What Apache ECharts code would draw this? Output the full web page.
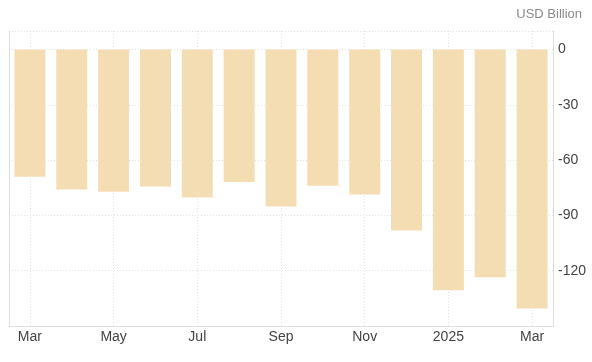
<!DOCTYPE html>
<html><head><meta charset="utf-8">
<script src="https://cdn.jsdelivr.net/npm/echarts@6/dist/echarts.min.js"></script>
<style>html,body{margin:0;padding:0;background:#fff}#c{width:592px;height:362px}</style>
</head><body><div id="c"></div>
<script>
const categories = ['Mar','Apr','May','Jun','Jul','Aug','Sep','Oct','Nov','Dec','2025','Feb','Mar'];
const balance = [-69.0,-76.0,-77.2,-74.4,-80.3,-71.9,-85.2,-73.9,-78.7,-98.2,-130.6,-123.5,-140.5];
const unitLabel = 'USD Billion';

const chart = echarts.init(document.getElementById('c'));
chart.setOption({
  animation: false,
  textStyle: { fontFamily: 'Liberation Sans, Arial, sans-serif' },
  title: {
    text: unitLabel, right: 5, top: 3,
    textStyle: { color: '#8a8a8a', fontSize: 13, fontWeight: 'normal' }
  },
  grid: { left: 9, right: 39, top: 31, bottom: 36 },
  xAxis: {
    type: 'category', data: categories, boundaryGap: true,
    axisLine: { show: true, onZero: false, lineStyle: { color: '#dedede' } },
    axisTick: { show: false },
    axisLabel: { interval: 1, color: '#444', fontSize: 14, margin: 4 },
    splitLine: { show: true, interval: 1, alignWithLabel: true, lineStyle: { color: '#e2e2e2', type: [1, 2] } }
  },
  yAxis: [{
    type: 'value', position: 'right', min: -150, max: 10, interval: 30,
    axisLine: { show: true, lineStyle: { color: '#dedede' } },
    axisTick: { show: false },
    axisLabel: { color: '#444', fontSize: 14, margin: 5, showMinLabel: false, showMaxLabel: false },
    splitLine: { show: true, lineStyle: { color: '#e2e2e2', type: [1, 2] } }
  }, {
    type: 'value', position: 'left', min: -150, max: 10, interval: 30,
    axisLine: { show: true, lineStyle: { color: '#dedede' } },
    axisTick: { show: false }, axisLabel: { show: false }, splitLine: { show: false }
  }],
  series: [{
    type: 'bar', data: balance, barCategoryGap: '26%',
    itemStyle: { color: '#F4DDB3' }
  }]
});
</script></body></html>
